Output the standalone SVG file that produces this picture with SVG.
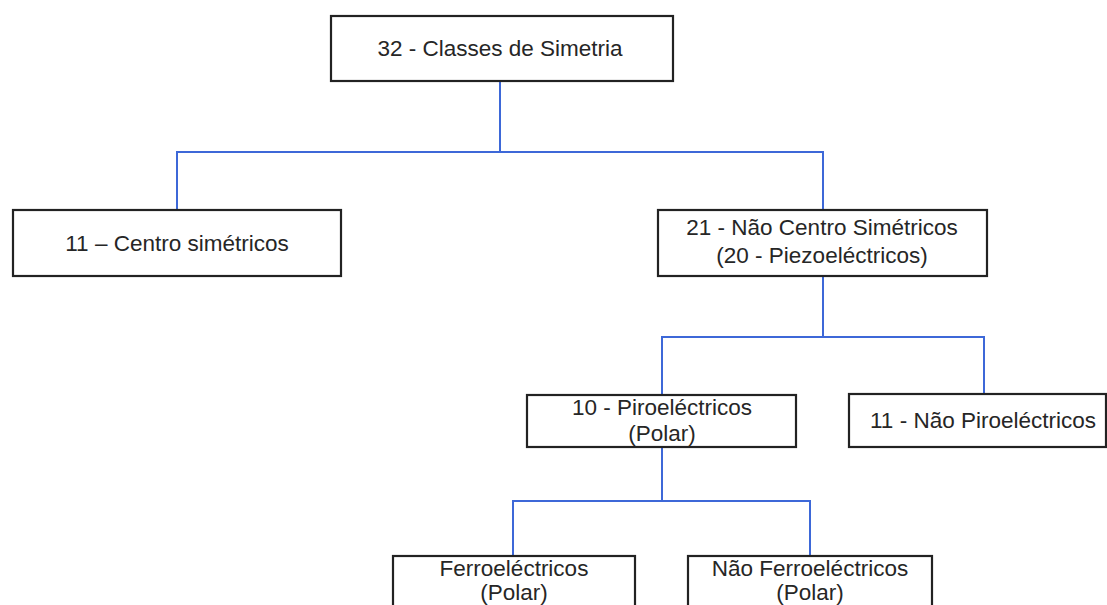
<svg xmlns="http://www.w3.org/2000/svg" width="1107" height="605" viewBox="0 0 1107 605">
  <style>
    .box { fill: #ffffff; stroke: #222222; stroke-width: 2.2; }
    .lbl { font-family: "Liberation Sans", Arial, sans-serif; font-size: 22.5px; fill: #262626; text-anchor: middle; }
    .link { fill: none; stroke: #3d68d8; stroke-width: 2; }
  </style>
  <rect width="1107" height="605" fill="#ffffff"/>

  <!-- connectors -->
  <g id="connectors">
    <path class="link" d="M500 81 V152 M177 210 V152 H823 V210"/>
    <path class="link" d="M823 276 V337 M662 395 V337 H984 V394"/>
    <path class="link" d="M662 447 V501 M513 556 V501 H810 V556"/>
  </g>

  <g id="n-classes">
    <rect class="box" x="331" y="16" width="342" height="65"/>
    <text class="lbl" x="500" y="56">32 - Classes de Simetria</text>
  </g>

  <g id="n-centro">
    <rect class="box" x="13" y="210" width="328" height="66"/>
    <text class="lbl" x="177" y="251">11 – Centro simétricos</text>
  </g>

  <g id="n-nao-centro">
    <rect class="box" x="658" y="210" width="329" height="66"/>
    <text class="lbl" x="822" y="235">21 - Não Centro Simétricos</text>
    <text class="lbl" x="822" y="263">(20 - Piezoeléctricos)</text>
  </g>

  <g id="n-piro">
    <rect class="box" x="527" y="395" width="269" height="52"/>
    <text class="lbl" x="662" y="415">10 - Piroeléctricos</text>
    <text class="lbl" x="662" y="441">(Polar)</text>
  </g>

  <g id="n-nao-piro">
    <rect class="box" x="849" y="394" width="257" height="53"/>
    <text class="lbl" x="983" y="428">11 - Não Piroeléctricos</text>
  </g>

  <g id="n-ferro">
    <rect class="box" x="393" y="556" width="242" height="60"/>
    <text class="lbl" x="514" y="576">Ferroeléctricos</text>
    <text class="lbl" x="514" y="600">(Polar)</text>
  </g>

  <g id="n-nao-ferro">
    <rect class="box" x="688" y="556" width="244" height="60"/>
    <text class="lbl" x="810" y="576">Não Ferroeléctricos</text>
    <text class="lbl" x="810" y="600">(Polar)</text>
  </g>
</svg>
